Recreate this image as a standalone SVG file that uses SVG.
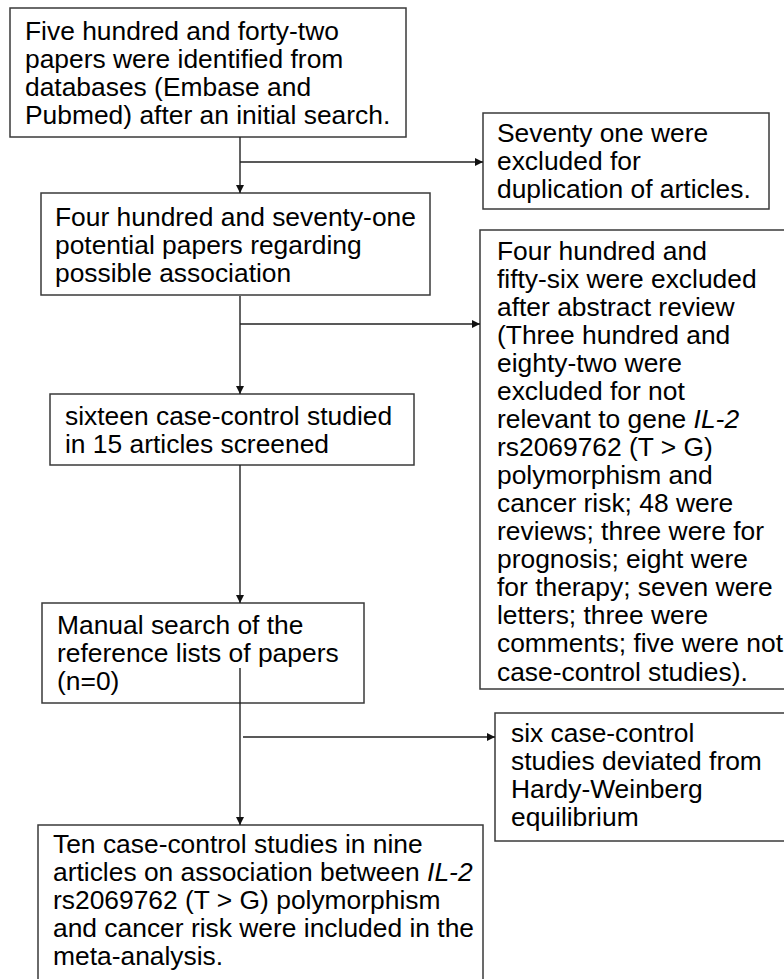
<svg xmlns="http://www.w3.org/2000/svg" width="784" height="979" viewBox="0 0 784 979">
<style>
.box{fill:#fff;stroke:#3a3a3a;stroke-width:1.5}
.t{font-family:"Liberation Sans",Arial,sans-serif;font-size:26.4px;fill:#000}
.c{fill:none;stroke:#222;stroke-width:1.4}
.i{font-style:italic}
</style>
<defs>
<marker id="ah" viewBox="0 0 10 10" refX="10" refY="5" markerWidth="8" markerHeight="8" markerUnits="userSpaceOnUse" orient="auto">
<path d="M0,0 L10,5 L0,10 z" fill="#111"/>
</marker>
</defs>
<rect width="784" height="979" fill="#fff"/>
<g id="n1">
<rect class="box" x="10" y="8" width="396" height="129"/>
<text class="t" x="25" y="40">Five hundred and forty-two</text>
<text class="t" x="25" y="68">papers were identified from</text>
<text class="t" x="25" y="96">databases (Embase and</text>
<text class="t" x="25" y="124">Pubmed) after an initial search.</text>
</g>
<g id="n2">
<rect class="box" x="41" y="193" width="389" height="102"/>
<text class="t" x="55" y="226">Four hundred and seventy-one</text>
<text class="t" x="55" y="254">potential papers regarding</text>
<text class="t" x="55" y="282">possible association</text>
</g>
<g id="n3">
<rect class="box" x="483" y="113" width="286" height="96"/>
<text class="t" x="497" y="142">Seventy one were</text>
<text class="t" x="497" y="170">excluded for</text>
<text class="t" x="497" y="198">duplication of articles.</text>
</g>
<g id="n4">
<rect class="box" x="480" y="230" width="320" height="459"/>
<text class="t" x="497" y="260">Four hundred and</text>
<text class="t" x="497" y="288">fifty-six were excluded</text>
<text class="t" x="497" y="316">after abstract review</text>
<text class="t" x="497" y="344">(Three hundred and</text>
<text class="t" x="497" y="372">eighty-two were</text>
<text class="t" x="497" y="400">excluded for not</text>
<text class="t" x="497" y="428">relevant to gene <tspan class="i">IL-2</tspan></text>
<text class="t" x="497" y="456">rs2069762 (T &gt; G)</text>
<text class="t" x="497" y="484">polymorphism and</text>
<text class="t" x="497" y="512">cancer risk; 48 were</text>
<text class="t" x="497" y="540">reviews; three were for</text>
<text class="t" x="497" y="568">prognosis; eight were</text>
<text class="t" x="497" y="596">for therapy; seven were</text>
<text class="t" x="497" y="624">letters; three were</text>
<text class="t" x="497" y="652">comments; five were not</text>
<text class="t" x="497" y="681">case-control studies).</text>
</g>
<g id="n5">
<rect class="box" x="50" y="394" width="364" height="71"/>
<text class="t" x="65" y="425">sixteen case-control studied</text>
<text class="t" x="65" y="453">in 15 articles screened</text>
</g>
<g id="n6">
<rect class="box" x="42" y="603" width="322" height="100"/>
<text class="t" x="57" y="634">Manual search of the</text>
<text class="t" x="57" y="662">reference lists of papers</text>
<text class="t" x="57" y="690">(n=0)</text>
</g>
<g id="n7">
<rect class="box" x="495" y="713" width="300" height="128"/>
<text class="t" x="511" y="742">six case-control</text>
<text class="t" x="511" y="770">studies deviated from</text>
<text class="t" x="511" y="798">Hardy-Weinberg</text>
<text class="t" x="511" y="826">equilibrium</text>
</g>
<g id="n8">
<rect class="box" x="38" y="825" width="445" height="170"/>
<text class="t" x="53" y="853">Ten case-control studies in nine</text>
<text class="t" x="53" y="881">articles on association between <tspan class="i">IL-2</tspan></text>
<text class="t" x="53" y="909">rs2069762 (T &gt; G) polymorphism</text>
<text class="t" x="53" y="937">and cancer risk were included in the</text>
<text class="t" x="53" y="965">meta-analysis.</text>
</g>
<g id="connectors">
<line class="c" x1="240" y1="137" x2="240" y2="193" marker-end="url(#ah)"/>
<line class="c" x1="240" y1="162" x2="483" y2="162" marker-end="url(#ah)"/>
<line class="c" x1="240" y1="296" x2="240" y2="394" marker-end="url(#ah)"/>
<line class="c" x1="240" y1="324" x2="480" y2="324" marker-end="url(#ah)"/>
<line class="c" x1="240" y1="465" x2="240" y2="603" marker-end="url(#ah)"/>
<line class="c" x1="240" y1="668" x2="240" y2="825" marker-end="url(#ah)"/>
<line class="c" x1="243" y1="737" x2="495" y2="737" marker-end="url(#ah)"/>
</g>
</svg>
